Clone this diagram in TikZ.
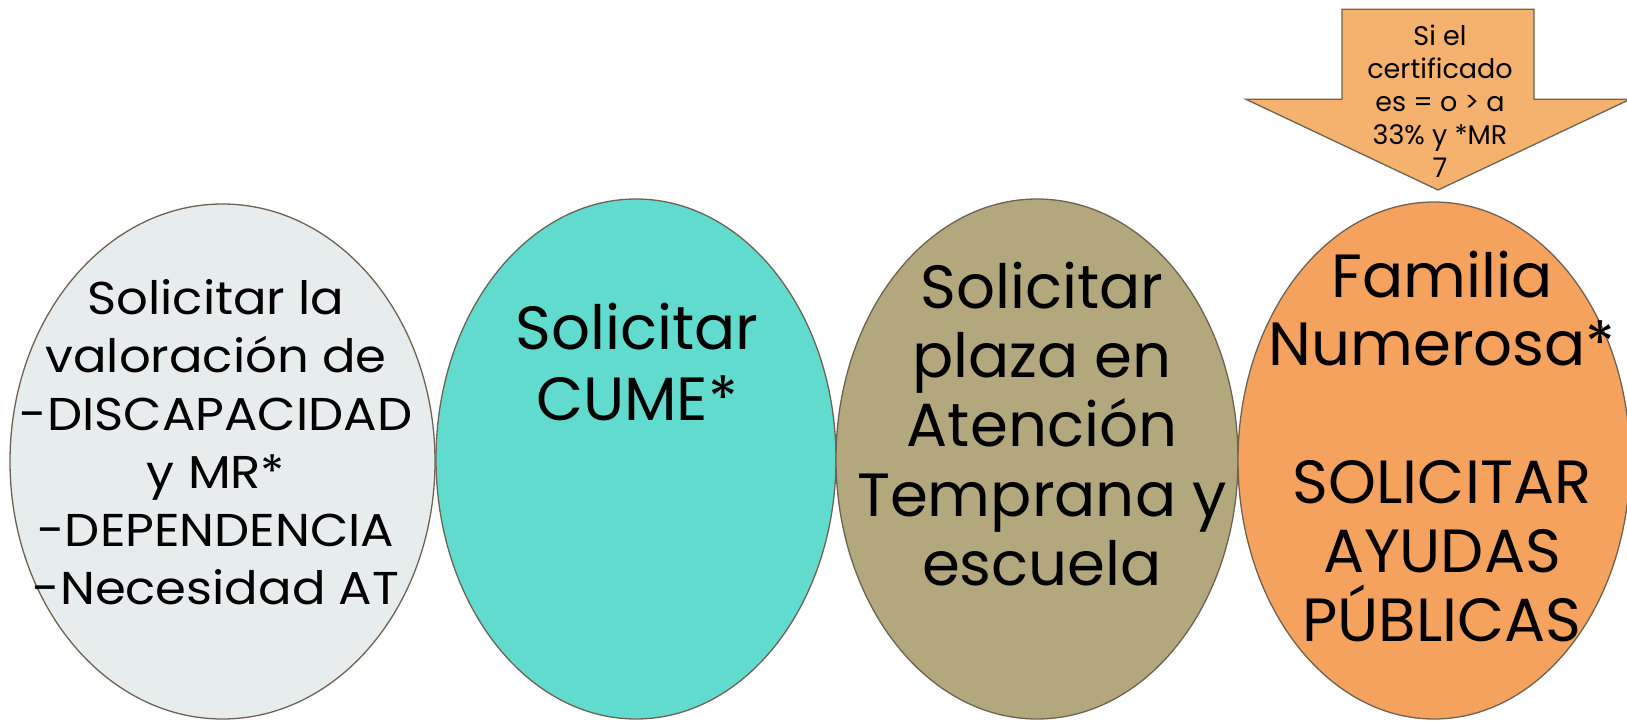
\documentclass[tikz,border=0pt]{standalone}
\usepackage{fontspec}
\setmainfont{Poppins}
\usetikzlibrary{shapes.geometric}
\definecolor{edgec}{HTML}{6E6352}
\definecolor{fillA}{HTML}{E7EDED}
\definecolor{fillB}{HTML}{62DBCF}
\definecolor{fillC}{HTML}{B3A77E}
\definecolor{fillD}{HTML}{F5A25E}
\definecolor{fillE}{HTML}{F5B26E}
\newcommand{\lines}[1]{\begin{tabular}[t]{@{}c@{}}#1\end{tabular}}
\begin{document}
\begin{tikzpicture}[x=1pt,y=-1pt,
  oval/.style={ellipse, draw=edgec, line width=1.3pt, inner sep=0pt},
  txt/.style={anchor=base, inner sep=0pt, text=black},
  arrowshape/.style={draw=edgec, fill=fillE, line width=1.3pt, line join=miter}]
\useasboundingbox (0,0) rectangle (1627,721);
\clip (0,0) rectangle (1627,721);
% ellipses
\node[oval, fill=fillA, minimum width=425pt, minimum height=515pt] (e1) at (222.5,461.5) {};
\node[oval, fill=fillB, minimum width=400pt, minimum height=520pt] (e2) at (636,459) {};
\node[oval, fill=fillC, minimum width=402pt, minimum height=520pt] (e3) at (1037,459) {};
\node[oval, fill=fillD, minimum width=392pt, minimum height=517pt] (e4) at (1434,460.5) {};
% arrow
\draw[arrowshape] (1342,9.3) -- (1534,9.3) -- (1534,99.3) -- (1630,99.3) -- (1438,190) -- (1246,99.3) -- (1342,99.3) -- cycle;
% texts
\node[txt, font={\fontsize{46}{58}\selectfont\addfontfeature{FakeStretch=1.08}}] (t1) at (216,314)
  {\lines{Solicitar la\\valoración de\\-DISCAPACIDAD\\y MR*\\-DEPENDENCIA\\-Necesidad AT}};
\node[txt, font={\fontsize{61}{71}\selectfont}] (t2) at (637,349)
  {\lines{Solicitar\\CUME*}};
\node[txt, font={\fontsize{61}{69.4}\selectfont}] (t3) at (1042,308)
  {\lines{Solicitar\\plaza en\\Atención\\Temprana y\\escuela}};
\node[txt, font={\fontsize{61}{68.8}\selectfont}] (t4) at (1442,297)
  {\lines{Familia\\Numerosa*\\ \\SOLICITAR\\AYUDAS\\\smash{PÚBLICAS}}};
\node[txt, font={\fontsize{27}{33}\selectfont}] (ta) at (1440,45)
  {\lines{Si el\\certificado\\es = o > a\\33\% y *MR\\7}};
\end{tikzpicture}
\end{document}
